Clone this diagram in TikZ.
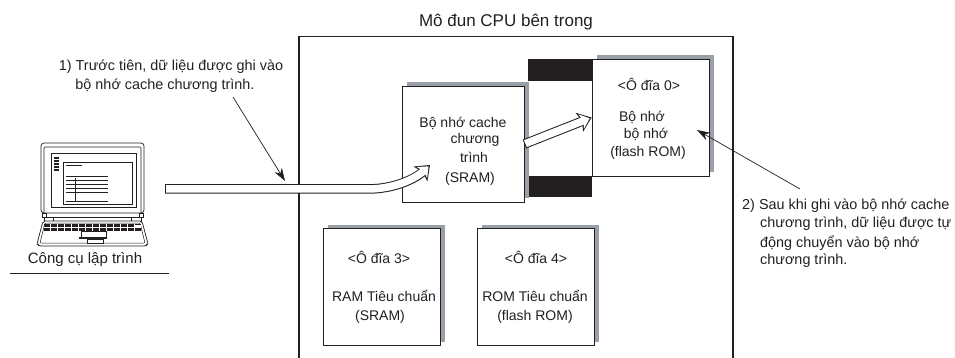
\documentclass[tikz,border=0pt]{standalone}
\usepackage{fontspec}
\setmainfont{Liberation Sans}
\usetikzlibrary{arrows.meta, shadows}
\definecolor{inkblack}{HTML}{231F20}
\definecolor{shadowgray}{HTML}{9AA0A8}
\newcommand{\flowarrow}[1]{\draw[flowback] #1; \draw[flowfront] #1;}

\begin{document}
\begin{tikzpicture}[
    x=1pt, y=-1pt,
    inkblack,
    memory/.style={draw, line width=0.9pt, fill=white, minimum width=117pt, minimum height=117pt, inner sep=0pt,
        drop shadow={shadow xshift=4.5pt, shadow yshift=4pt, fill=shadowgray, opacity=1}},
    bar/.style={fill=inkblack, minimum width=64pt, minimum height=21.5pt, inner sep=0pt},
    lbl/.style={font=\fontsize{14}{16}\selectfont, inner sep=0pt},
    notetext/.style={font=\fontsize{14.4}{16}\selectfont, inner sep=0pt},
    flowback/.style={draw=inkblack, line width=9.5pt, -{Stealth[length=13pt, width=20pt, inset=3pt]}},
    flowfront/.style={draw=white, line width=7.5pt, shorten >=2pt, shorten <=1pt, -{Stealth[length=9pt, width=15pt, inset=2.2pt]}},
    pointer/.style={-{Stealth[length=13pt, width=8.5pt]}, line width=0.7pt},
    part/.style={line width=0.7pt, fill=white},
]
\useasboundingbox (0,0) rectangle (955,358);

% CPU module outline, open at the bottom
\draw[line width=1.9pt] (299,358) -- (299,36.5) -- (733,36.5) -- (733,358);
\node[lbl, font=\fontsize{17}{19}\selectfont] (title) at (506,22) {Mô đun CPU bên trong};

% Black bars behind the boxes
\node[bar] (bartop) at (560,70) {};
\node[bar] (barbot) at (560,186.5) {};

% Memories
\node[memory, minimum width=122pt, minimum height=116pt] (cache) at (463,144) {};
\node[memory] (flash) at (650.5,117.5) {};
\node[memory] (stdram) at (381.5,287) {};
\node[memory] (stdrom) at (535.5,287) {};

% Lines of text
\foreach \x/\y/\t [count=\i] in {463/123/{Bộ nhớ cache}, 475/140/chương, 474/157/trình, 470/179/(SRAM),
    649/84/{<Ô đĩa 0>}, 642/117/{Bộ nhớ}, 646/134/{bộ nhớ}, 648/153/{(flash ROM)},
    379/257/{<Ô đĩa 3>}, 384/296/{RAM Tiêu chuẩn}, 380/317/(SRAM),
    536/257/{<Ô đĩa 4>}, 535/296/{ROM Tiêu chuẩn}, 535/317/{(flash ROM)}} {
    \node[lbl] (line\i) at (\x,\y) {\t};
}
\node[notetext] (first1) at (171,67) {1) Trước tiên, dữ liệu được ghi vào};
\node[notetext] (first2) at (165,86) {bộ nhớ cache chương trình.};
\foreach \x/\y/\t [count=\i] in {742/206/{2) Sau khi ghi vào bộ nhớ cache}, 760/224/{chương trình, dữ liệu được tự},
    760/243/{động chuyển vào bộ nhớ}, 760/261/{chương trình.}} {
    \node[notetext, anchor=west] (note\i) at (\x,\y) {\t};
}

% Data flow
\coordinate (tail) at (165,189);
\coordinate (cachein) at (430,165);
\flowarrow{(tail) -- (368,189) .. controls (392,189) and (414,180) .. (cachein)}
\flowarrow{(cache.east) -- (flash.west)}

% Pointers
\coordinate (from1) at (233,97);
\coordinate (to1) at (285,181);
\coordinate (from2) at (800,189);
\coordinate (to2) at (697,130);
\draw[pointer] (from1) -- (to1);
\draw[pointer] (from2) -- (to2);

% Laptop
\draw[part, rounded corners=3pt] (41,213) -- (41,143) -- (144,143) -- (144,213) -- cycle;
\draw[line width=0.6pt, rounded corners=1pt] (44,213) -- (44,147) -- (141,147) -- (141,213);
\draw[line width=0.8pt] (51,153) rectangle (136,207);
\draw[line width=0.7pt] (63,162) rectangle (132,204);
\foreach \y in {157,158.5,...,171} {
    \draw[line width=0.4pt] (54,\y) -- (59,\y);
}
\draw[line width=0.7pt] (66,165) -- (82,165);
\foreach \y in {176,180,184,188,192,201} {
    \draw[line width=0.7pt] (66,\y) -- (108,\y);
}
\draw[line width=0.7pt] (75,178) -- (75,201);
\draw[part] (42,213) rectangle (46,217);
\draw[part] (139,213) rectangle (143,217);
\draw[part] (44,217) rectangle (141,221);
\draw[line width=0.7pt] (53,217) -- (53,221) (131,217) -- (131,221);
\draw[part, rounded corners=2pt] (43,221) -- (142,221) -- (148,244) -- (146,246) -- (39,246) -- (37,244) -- cycle;
\draw[line width=0.5pt, rounded corners=1pt] (45,223) -- (140,223) -- (145,243) -- (40,243) -- cycle;
\fill (44,224) rectangle (141,231);
\foreach \x in {50,57,...,136} {
    \draw[white, line width=0.3pt] (\x,224) -- (\x,231);
}
\draw[white, line width=0.4pt] (44,227.5) -- (141,227.5);
\fill[white] (134,225) rectangle (141,227);
\draw[part] (81,231) rectangle (106,237);
\fill (79,237) rectangle (107,239);
\draw[part] (87,239) rectangle (103,243);
\node[notetext, font=\fontsize{15}{17}\selectfont] (tool) at (85,260) {Công cụ lập trình};
\draw[line width=0.6pt] (10,273) -- (169,273);

\end{tikzpicture}
\end{document}
